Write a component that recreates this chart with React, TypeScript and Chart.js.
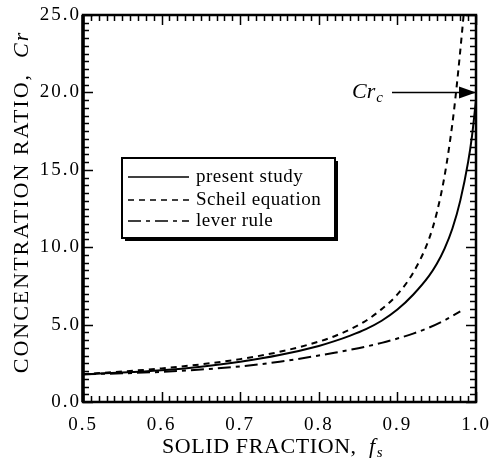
import React, { useEffect, useRef } from "react";
import { Chart, registerables } from "chart.js";

Chart.register(...registerables);

// ---- data ----
const presentFs = [0.5, 0.55, 0.6, 0.65, 0.7, 0.75, 0.8, 0.82, 0.84, 0.86, 0.88, 0.9, 0.92, 0.94, 0.95, 0.96, 0.97, 0.98, 0.99, 0.995, 1.0];
const presentCr = [1.8, 1.9, 2.05, 2.28, 2.6, 3.03, 3.62, 3.93, 4.29, 4.71, 5.25, 5.97, 6.93, 8.13, 8.91, 9.91, 11.21, 13.01, 15.51, 17.21, 19.51];

const scheilFs = [0.5, 0.55, 0.6, 0.65, 0.7, 0.75, 0.8, 0.82, 0.84, 0.86, 0.88, 0.9, 0.92, 0.94, 0.95, 0.96, 0.97, 0.975, 0.98, 0.985];
const scheilCr = [1.8, 1.97, 2.17, 2.43, 2.77, 3.24, 3.9, 4.25, 4.7, 5.25, 6.0, 6.95, 8.35, 10.5, 12.2, 14.6, 18.0, 20.2, 22.7, 25.4];

const leverFs = [0.5, 0.55, 0.6, 0.65, 0.7, 0.75, 0.8, 0.82, 0.84, 0.86, 0.88, 0.9, 0.92, 0.94, 0.96, 0.98];
const leverCr = [1.8, 1.85, 1.95, 2.1, 2.3, 2.6, 3.0, 3.18, 3.37, 3.58, 3.82, 4.1, 4.42, 4.8, 5.28, 5.85];

const seriesLabels = ["present study", "Scheil equation", "lever rule"];
const crCritical = { x: 1.0, y: 20.0 };

const xMin = 0.5, xMax = 1.0, xStep = 0.1;
const yMin = 0, yMax = 25, yStep = 5;

const SERIF = '"Liberation Serif", "DejaVu Serif", serif';

const toPts = (xs: number[], ys: number[]) => xs.map((x, i) => ({ x, y: ys[i] }));

const dashScheil = [6, 5];
const dashLever = [13, 5, 4, 5];

const framePlugin = {
  id: "frameAndDecor",
  beforeDraw(chart: any) {
    (chart.ctx as any).letterSpacing = "2px";
  },
  afterDatasetsDraw(chart: any) {
    const ctx: CanvasRenderingContext2D = chart.ctx;
    const { left, right, top, bottom } = chart.chartArea;
    const xs = chart.scales.x;
    const ys = chart.scales.y;
    ctx.save();
    (ctx as any).letterSpacing = "0px";
    ctx.strokeStyle = "#000";
    ctx.lineCap = "butt";

    // minor / major ticks on all four sides, inward
    ctx.lineWidth = 1.5;
    for (let i = 0; i <= 50; i++) {
      const v = xMin + i * 0.01;
      const px = Math.round(xs.getPixelForValue(v)) + 0.5;
      const len = i % 10 === 0 ? 10 : 6;
      ctx.beginPath();
      ctx.moveTo(px, bottom);
      ctx.lineTo(px, bottom - len);
      ctx.moveTo(px, top);
      ctx.lineTo(px, top + len);
      ctx.stroke();
    }
    for (let i = 0; i <= 50; i++) {
      const v = yMin + i * 0.5;
      const py = Math.round(ys.getPixelForValue(v)) + 0.5;
      const len = i % 10 === 0 ? 10 : 6;
      ctx.beginPath();
      ctx.moveTo(left, py);
      ctx.lineTo(left + len, py);
      ctx.moveTo(right, py);
      ctx.lineTo(right - len, py);
      ctx.stroke();
    }

    // frame
    ctx.lineWidth = 2.5;
    ctx.beginPath();
    ctx.moveTo(left, top);
    ctx.lineTo(right, top);
    ctx.lineTo(right, bottom);
    ctx.lineTo(left, bottom);
    ctx.closePath();
    ctx.stroke();
    ctx.lineWidth = 3.5;
    ctx.beginPath();
    ctx.moveTo(left, top);
    ctx.lineTo(left, bottom);
    ctx.stroke();

    // legend box
    const bx = 122, by = 158, bw = 213, bh = 80;
    ctx.fillStyle = "#fff";
    ctx.fillRect(bx, by, bw, bh);
    ctx.lineWidth = 2;
    ctx.strokeRect(bx, by, bw, bh);
    ctx.lineWidth = 3;
    ctx.beginPath();
    ctx.moveTo(bx + bw + 1.5, by + 3);
    ctx.lineTo(bx + bw + 1.5, by + bh + 1.5);
    ctx.lineTo(bx + 3, by + bh + 1.5);
    ctx.stroke();

    const rows = [177, 200, 221];
    const dashes = [[], dashScheil, dashLever];
    ctx.lineWidth = 1.5;
    rows.forEach((ry, i) => {
      ctx.setLineDash(dashes[i] as number[]);
      ctx.beginPath();
      ctx.moveTo(128, ry);
      ctx.lineTo(189, ry);
      ctx.stroke();
    });
    ctx.setLineDash([]);
    ctx.fillStyle = "#000";
    (ctx as any).letterSpacing = "0.5px";
    ctx.font = `19px ${SERIF}`;
    ctx.textBaseline = "middle";
    ctx.textAlign = "left";
    rows.forEach((ry, i) => ctx.fillText(seriesLabels[i], 196, ry));
    (ctx as any).letterSpacing = "0px";

    // Cr_c annotation with arrow
    const tipX = xs.getPixelForValue(crCritical.x);
    const tipY = ys.getPixelForValue(crCritical.y);
    ctx.textBaseline = "alphabetic";
    ctx.font = `italic 22px ${SERIF}`;
    ctx.fillText("Cr", 352, tipY + 6);
    const crW = ctx.measureText("Cr").width;
    ctx.font = `italic 15px ${SERIF}`;
    ctx.fillText("c", 352 + crW + 1, tipY + 10);
    ctx.lineWidth = 1.5;
    ctx.beginPath();
    ctx.moveTo(392, tipY);
    ctx.lineTo(tipX - 14, tipY);
    ctx.stroke();
    ctx.beginPath();
    ctx.moveTo(tipX, tipY);
    ctx.lineTo(tipX - 17, tipY - 6);
    ctx.lineTo(tipX - 17, tipY + 6);
    ctx.closePath();
    ctx.fill();

    // x axis title
    (ctx as any).letterSpacing = "0.6px";
    ctx.font = `22px ${SERIF}`;
    const xt1 = "SOLID FRACTION,  ";
    const w1 = ctx.measureText(xt1).width;
    ctx.font = `italic 22px ${SERIF}`;
    const wf = ctx.measureText("f").width;
    ctx.font = `italic 15px ${SERIF}`;
    const ws = ctx.measureText("s").width;
    const total = w1 + wf + ws;
    const cx = 272;
    const x0 = cx - total / 2;
    ctx.textAlign = "left";
    ctx.font = `22px ${SERIF}`;
    ctx.fillText(xt1, x0, 453);
    ctx.font = `italic 22px ${SERIF}`;
    ctx.fillText("f", x0 + w1, 453);
    ctx.font = `italic 15px ${SERIF}`;
    ctx.fillText("s", x0 + w1 + wf + 1, 457);

    // y axis title
    ctx.save();
    (ctx as any).letterSpacing = "2px";
    ctx.translate(28, 202);
    ctx.rotate(-Math.PI / 2);
    ctx.font = `22px ${SERIF}`;
    const yt1 = "CONCENTRATION RATIO,  ";
    const wy1 = ctx.measureText(yt1).width;
    ctx.font = `italic 22px ${SERIF}`;
    const wcr = ctx.measureText("Cr").width;
    const ty = -(wy1 + wcr) / 2;
    ctx.font = `22px ${SERIF}`;
    ctx.fillText(yt1, ty, 0);
    ctx.font = `italic 22px ${SERIF}`;
    ctx.fillText("Cr", ty + wy1, 0);
    ctx.restore();

    ctx.restore();
  },
  afterDraw(chart: any) {
    (chart.ctx as any).letterSpacing = "0px";
  },
};

export default function App() {
  const ref = useRef<HTMLCanvasElement | null>(null);
  useEffect(() => {
    if (!ref.current) return;
    const chart = new Chart(ref.current, {
      type: "line",
      data: {
        datasets: [
          {
            label: seriesLabels[0],
            data: toPts(presentFs, presentCr),
            borderColor: "#000",
            borderWidth: 2,
            pointRadius: 0,
            cubicInterpolationMode: "monotone",
            fill: false,
          },
          {
            label: seriesLabels[1],
            data: toPts(scheilFs, scheilCr),
            borderColor: "#000",
            borderWidth: 2,
            borderDash: dashScheil,
            pointRadius: 0,
            cubicInterpolationMode: "monotone",
            fill: false,
          },
          {
            label: seriesLabels[2],
            data: toPts(leverFs, leverCr),
            borderColor: "#000",
            borderWidth: 2,
            borderDash: dashLever,
            pointRadius: 0,
            cubicInterpolationMode: "monotone",
            fill: false,
          },
        ],
      },
      options: {
        responsive: false,
        animation: false,
        layout: { padding: { top: 15, right: 14, left: 0, bottom: 0 } },
        plugins: { legend: { display: false }, tooltip: { enabled: false } },
        scales: {
          x: {
            type: "linear",
            min: xMin,
            max: xMax,
            grid: { display: false, drawTicks: false },
            border: { display: false },
            ticks: {
              stepSize: xStep,
              color: "#000",
              font: { family: SERIF, size: 19 },
              padding: 12,
              maxRotation: 0,
              callback: (v: any) => Number(v).toFixed(1),
            },
            afterFit: (s: any) => {
              s.height = 68;
              s.paddingLeft = 0;
              s.paddingRight = 0;
            },
          },
          y: {
            type: "linear",
            min: yMin,
            max: yMax,
            grid: { display: false, drawTicks: false },
            border: { display: false },
            ticks: {
              stepSize: yStep,
              color: "#000",
              font: { family: SERIF, size: 19 },
              padding: 2,
              callback: (v: any) => Number(v).toFixed(1),
            },
            afterFit: (s: any) => {
              s.width = 83;
              s.paddingTop = 0;
              s.paddingBottom = 0;
            },
          },
        },
      },
      plugins: [framePlugin],
    } as any);
    return () => chart.destroy();
  }, []);
  return (
    <div style={{ position: "absolute", left: 0, top: 0, width: 490, height: 470, background: "#fff" }}>
      <canvas ref={ref} width={490} height={470} />
    </div>
  );
}
